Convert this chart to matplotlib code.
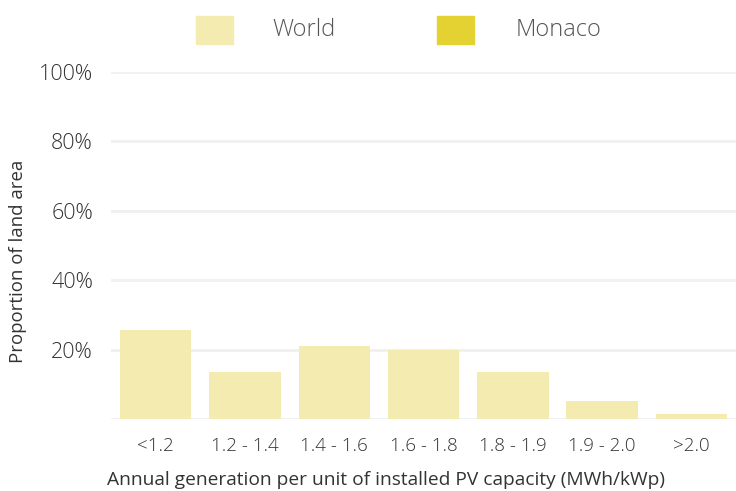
import matplotlib
matplotlib.use("Agg")
import matplotlib.pyplot as plt
from matplotlib.patches import Rectangle

categories = ["<1.2", "1.2 - 1.4", "1.4 - 1.6", "1.6 - 1.8", "1.8 - 1.9", "1.9 - 2.0", ">2.0"]
world = [25.6, 13.5, 21.0, 19.9, 13.5, 5.2, 1.4]
series_names = ["World", "Monaco"]
series_colors = ["#f3ebaf", "#e3d232"]
yticks = [20, 40, 60, 80, 100]
ytick_labels = ["20%", "40%", "60%", "80%", "100%"]

FONT = "Open Sans"
TXT = "#333333"
plt.rcParams["font.family"] = [FONT, "DejaVu Sans"]
plt.rcParams["font.weight"] = "light"

W, H = 736, 491
fig = plt.figure(figsize=(W/100, H/100), dpi=100)
ax = fig.add_axes([111/W, 1 - 419/H, (W - 111)/W, (419 - 72)/H])

x = list(range(len(categories)))
ax.bar(x, world, width=0.8, color=series_colors[0], zorder=3)

ax.set_xlim(-0.5, len(categories) - 0.5)
ax.set_ylim(0, 100)
ax.set_yticks([0] + yticks)
ax.set_yticklabels([""] + ytick_labels)
ax.set_xticks(x)
ax.set_xticklabels(categories)
ax.grid(axis="y", color="#f0f0f0", linewidth=2, zorder=0)
for s in ax.spines.values():
    s.set_visible(False)
ax.tick_params(axis="both", length=0, labelcolor=TXT)
ax.tick_params(axis="y", labelsize=15.5, pad=13)
ax.tick_params(axis="x", labelsize=13.5, pad=13)

ax.set_xlabel("Annual generation per unit of installed PV capacity (MWh/kWp)",
              fontsize=13.8, color=TXT)
ax.xaxis.set_label_coords(-0.007, -(480 - 419) / (419 - 72))
ax.xaxis.label.set_horizontalalignment("left")
ax.xaxis.label.set_verticalalignment("center")
ax.set_ylabel("Proportion of land area", fontsize=13.4, color=TXT)
ax.yaxis.set_label_coords(-(111 - 18) / (W - 111), (419 - 261) / (419 - 72))
ax.yaxis.label.set_verticalalignment("center")

# legend drawn manually in figure pixel space
legend_patches = [(196, 16), (437, 16)]
legend_text_x = [272, 516]
for (px, py), tx, name, col in zip(legend_patches, legend_text_x, series_names, series_colors):
    fig.add_artist(Rectangle((px / W, 1 - (py + 28) / H), 37 / W, 28 / H,
                             transform=fig.transFigure, color=col))
    fig.text(tx / W, 1 - 30 / H, name, fontsize=17, color="#555555", va="center", ha="left")

fig.savefig("out.png", dpi=100)
